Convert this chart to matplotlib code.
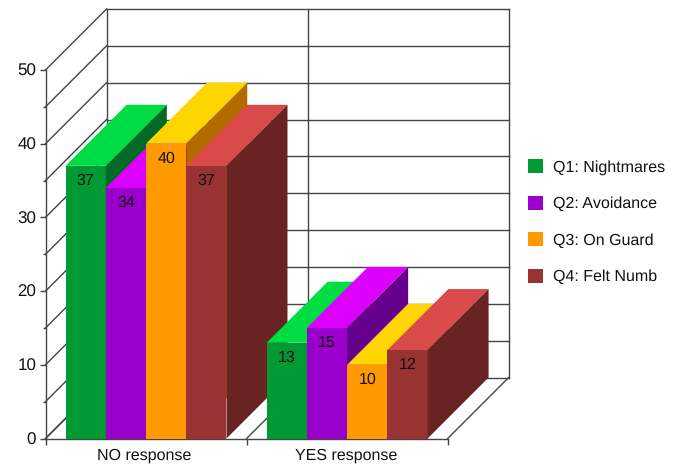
import matplotlib
matplotlib.use("Agg")
import matplotlib.pyplot as plt
from matplotlib.patches import Polygon, Patch

plt.rcParams['font.family'] = ['Liberation Sans', 'DejaVu Sans']
plt.rcParams['text.hinting'] = 'none'
plt.rcParams['text.hinting_factor'] = 1

# ---- data ----
categories = ['NO response', 'YES response']
series_names = ['Q1: Nightmares', 'Q2: Avoidance', 'Q3: On Guard', 'Q4: Felt Numb']
q1_values = [37, 13]
q2_values = [34, 15]
q3_values = [40, 10]
q4_values = [37, 12]
all_values = [q1_values, q2_values, q3_values, q4_values]

# ---- styles ----
front_colors = ['#009933', '#9900CC', '#FF9900', '#993333']
top_colors = ['#00DD44', '#DD00FF', '#FFD500', '#D94A4A']
side_colors = ['#006B24', '#66008C', '#B36B00', '#692323']
line_color = '#444444'
W, H = 682, 466

# plot box in pixels (front plane of the 3D box)
left, right, bottom, top = 45.5, 447.7, 438.5, 70

fig = plt.figure(figsize=(W / 100, H / 100), dpi=100)
ax = fig.add_axes([left / W, 1 - bottom / H, (right - left) / W, (bottom - top) / H])
ax.set_xlim(0, len(categories))
ax.set_ylim(0, 50)
for s in ['top', 'right']:
    ax.spines[s].set_visible(False)
for s in ['left', 'bottom']:
    ax.spines[s].set_color(line_color)
    ax.spines[s].set_linewidth(1)
    ax.spines[s].set_zorder(1)
ax.patch.set_alpha(0)

# depth of the box, same 61 px both ways, in data units
dx = 61 / (right - left) * len(categories)
dy = 61 / (bottom - top) * 50

# ---- walls and floor grid ----
grid_kw = dict(color=line_color, lw=1, clip_on=False, zorder=1)
for v in range(0, 55, 5):
    ax.plot([0, dx], [v, v + dy], **grid_kw)
    ax.plot([dx, len(categories) + dx], [v + dy, v + dy], **grid_kw)
for c in range(len(categories) + 1):
    ax.plot([c, c + dx], [0, dy], **grid_kw)
    ax.plot([c + dx, c + dx], [dy, 50 + dy], **grid_kw)

# ---- bars ----
n = len(all_values)
bar_w = 0.8 / n
for i, vals in enumerate(all_values):
    for c, v in enumerate(vals):
        x0 = c + 0.1 + i * bar_w
        x1 = x0 + bar_w
        z = 2 + i + c * 10
        ax.bar(x0, v, width=bar_w, align='edge', color=front_colors[i], zorder=z, clip_on=False)
        ax.add_patch(Polygon([(x0, v), (x1, v), (x1 + dx, v + dy), (x0 + dx, v + dy)],
                             closed=True, fc=top_colors[i], ec='none', zorder=z, clip_on=False))
        ax.add_patch(Polygon([(x1, 0), (x1 + dx, dy), (x1 + dx, v + dy), (x1, v)],
                             closed=True, fc=side_colors[i], ec='none', zorder=z, clip_on=False))
        ax.text(x0 + bar_w / 2, v - 2, str(v), ha='center', va='center', fontsize=11.5,
                color='#111111', zorder=100)

# ---- ticks ----
ax.set_yticks(range(0, 60, 10))
ax.set_yticks(range(5, 55, 10), minor=True)
ax.tick_params(axis='y', which='major', length=4.2, width=1, color=line_color, pad=2.5, labelsize=12, labelcolor='#111111')
ax.tick_params(axis='y', which='minor', length=2, width=1, color=line_color)
ax.set_xticks(range(len(categories) + 1))
ax.set_xticklabels([])
ax.tick_params(axis='x', which='major', length=4.5, width=1, color=line_color)
for c, name in enumerate(categories):
    ax.annotate(name, (c + 0.5, 0), xytext=(-1, -12), textcoords='offset points', annotation_clip=False,
                ha='center', va='center', fontsize=11.5, color='#111111')

# ---- legend ----
handles = [Patch(fc=col, ec='none', label=name) for col, name in zip(front_colors, series_names)]
fig.legend(handles=handles, loc='center left', bbox_to_anchor=(528 / W, 1 - 222 / H), frameon=False,
           fontsize=11.5, labelspacing=1.3, handlelength=0.95, handleheight=0.95,
           handletextpad=0.6, borderpad=0, borderaxespad=0, labelcolor='#111111')

fig.savefig('out.png', dpi=100)
